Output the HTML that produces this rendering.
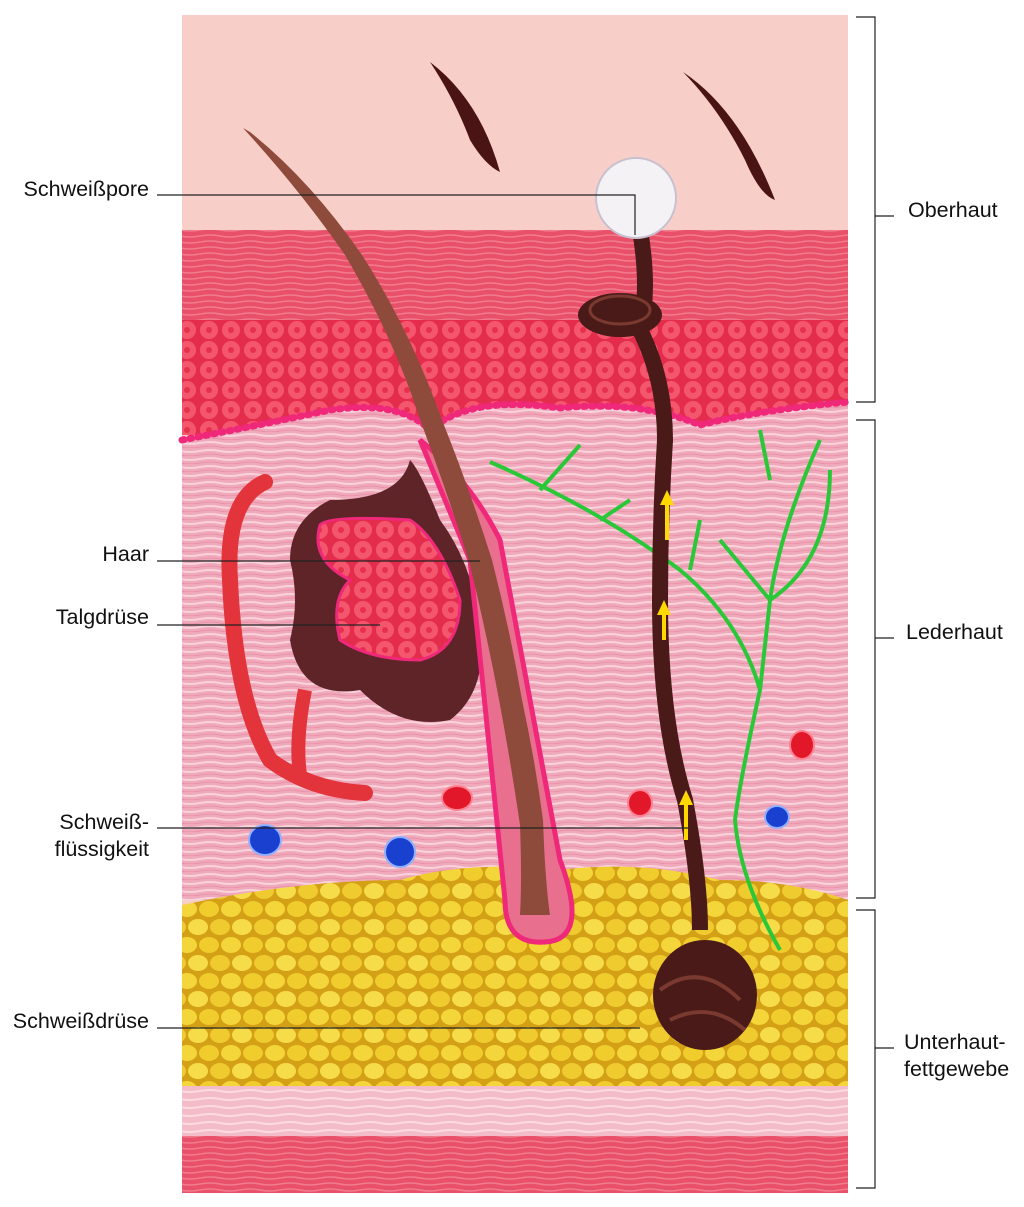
<!DOCTYPE html>
<html><head><meta charset="utf-8"><style>
html,body{margin:0;padding:0;background:#fff;}
svg{display:block;}
text{font-family:"Liberation Sans",sans-serif;font-size:21.5px;fill:#111;}
</style></head><body>
<svg width="1024" height="1207" viewBox="0 0 1024 1207" xmlns="http://www.w3.org/2000/svg">
<defs>
<pattern id="str" width="40" height="8" patternUnits="userSpaceOnUse">
<rect width="40" height="8" fill="#f0a9bb"/><path d="M0 3 Q10 1 20 3 T40 3" stroke="#f8d3dc" stroke-width="2" fill="none"/><path d="M0 7 Q10 5 20 7 T40 7" stroke="#e890a6" stroke-width="1" fill="none"/></pattern>
<pattern id="str2" width="40" height="8" patternUnits="userSpaceOnUse">
<rect width="40" height="8" fill="#f4bcc8"/><path d="M0 3 Q10 1 20 3 T40 3" stroke="#fadbe2" stroke-width="2" fill="none"/></pattern>
<pattern id="red" width="40" height="6" patternUnits="userSpaceOnUse">
<rect width="40" height="6" fill="#e9506a"/><path d="M0 2 Q10 0 20 2 T40 2" stroke="#f27c8e" stroke-width="1.5" fill="none"/></pattern>
<pattern id="cells" width="22" height="20" patternUnits="userSpaceOnUse">
<rect width="22" height="20" fill="#e42c4c"/><circle cx="11" cy="10" r="9" fill="#f4566e"/><circle cx="11" cy="10" r="3" fill="#e6304e"/></pattern>
<pattern id="fat" width="44" height="36" patternUnits="userSpaceOnUse">
<rect width="44" height="36" fill="#d4a015"/><ellipse cx="11" cy="9" rx="10" ry="8" fill="#f4d63a"/><ellipse cx="33" cy="9" rx="10" ry="8" fill="#f0cc2c"/><ellipse cx="22" cy="27" rx="10" ry="8" fill="#f6dc48"/><ellipse cx="0" cy="27" rx="10" ry="8" fill="#efcb30"/><ellipse cx="44" cy="27" rx="10" ry="8" fill="#efcb30"/></pattern>
</defs>
<rect x="182" y="15" width="666" height="1178" fill="#f8cfc8"/>
<rect x="182" y="230" width="666" height="100" fill="url(#red)"/>
<rect x="182" y="320" width="666" height="115" fill="url(#cells)"/>
<path d="M182 440 Q260 425 330 410 Q400 400 430 430 Q470 395 560 408 Q640 400 700 425 Q760 410 848 402 L848 900 L182 900Z" fill="url(#str)"/>
<path d="M182 440 Q260 425 330 410 Q400 400 430 430 Q470 395 560 408 Q640 400 700 425 Q760 410 848 402" stroke="#f0287a" stroke-width="7" fill="none" stroke-dasharray="2 6" stroke-linecap="round"/>
<path d="M182 905 Q300 880 400 880 Q470 860 560 870 Q640 860 720 880 Q790 880 848 900 L848 1090 L182 1090Z" fill="url(#fat)"/>
<rect x="182" y="1086" width="666" height="50" fill="url(#str2)"/>
<rect x="182" y="1136" width="666" height="57" fill="url(#red)"/>
<path d="M430 62 Q480 100 500 172 Q485 165 470 140 Q455 100 430 62Z" fill="#4a1414"/>
<path d="M683 72 Q740 110 775 200 Q760 195 745 160 Q720 110 683 72Z" fill="#4a1414"/>
<!-- sebaceous gland -->
<path d="M330 500 Q290 520 290 560 Q300 600 290 640 Q300 700 360 690 Q400 730 450 720 Q490 690 480 620 Q470 560 440 520 Q420 470 410 460 Q400 500 330 500Z" fill="#5e2428"/>
<path d="M320 525 Q330 515 410 520 Q440 540 460 600 Q460 650 420 660 Q370 660 340 640 Q330 600 350 580 Q310 560 320 525Z" fill="url(#cells)" stroke="#f0287a" stroke-width="3"/>
<path d="M265 482 Q225 500 230 580 Q235 700 270 760 Q310 790 365 793" stroke="#e2343a" stroke-width="16" fill="none" stroke-linecap="round"/>
<path d="M305 690 Q295 740 300 775" stroke="#e2343a" stroke-width="14" fill="none"/>
<!-- hair follicle -->
<path d="M420 440 Q470 480 500 540 Q530 700 560 860 Q590 940 545 942 Q505 945 505 900 L470 560Z" fill="#e8708e" stroke="#f0287a" stroke-width="5"/>
<path d="M243 128 Q300 190 345 255 Q395 340 422 425 Q450 500 470 565 Q488 640 500 705 Q512 770 520 825 Q522 880 520 915 L550 915 Q545 880 543 820 Q535 760 522 700 Q510 630 492 560 Q470 490 442 420 Q410 330 362 255 Q310 180 250 132Z" fill="#8e4a3a"/>
<g stroke="#2ac838" stroke-width="4" fill="none">
<path d="M490 462 Q600 510 680 570 Q740 620 760 690 Q740 780 735 820 Q740 880 780 950"/>
<path d="M540 490 L580 445 M600 520 L630 500 M700 520 L690 570 M760 690 L770 600 Q780 530 820 440 M770 600 L720 540 M770 600 Q830 560 830 470 M760 430 L770 480"/>
</g>
<path d="M640 230 Q650 290 640 330 Q665 380 665 440 Q660 520 660 600 Q660 720 685 800 Q700 880 700 930" stroke="#4a1a18" stroke-width="16" fill="none"/>
<ellipse cx="620" cy="315" rx="42" ry="22" fill="#4a1a18"/>
<ellipse cx="620" cy="310" rx="30" ry="14" fill="none" stroke="#7a3a30" stroke-width="3"/>
<circle cx="636" cy="198" r="40" fill="#f4f2f4" stroke="#c8c0d0" stroke-width="2"/>
<ellipse cx="705" cy="995" rx="52" ry="55" fill="#4a1a18"/>
<path d="M660 990 Q700 960 740 1000 M670 1020 Q710 1000 745 1030" stroke="#7a3a30" stroke-width="4" fill="none"/>
<path d="M667 540 L667 500 M664 640 L664 610 M686 840 L686 800" stroke="#ffd800" stroke-width="4"/>
<path d="M660 505 L667 490 L674 505Z M657 615 L664 600 L671 615Z M679 805 L686 790 L693 805Z" fill="#ffd800"/>
<g fill="#e2182a" stroke="#ff8090" stroke-width="2"><ellipse cx="457" cy="798" rx="15" ry="12"/><ellipse cx="640" cy="803" rx="12" ry="13"/><ellipse cx="802" cy="745" rx="12" ry="14"/></g>
<g fill="#1a40d0" stroke="#90b0ff" stroke-width="2"><ellipse cx="265" cy="840" rx="16" ry="15"/><ellipse cx="400" cy="852" rx="15" ry="15"/><ellipse cx="777" cy="817" rx="12" ry="11"/></g>
<g stroke="#222" stroke-width="1.2" fill="none">
<path d="M157 195 L635 195 L635 235"/>
<path d="M157 561 L480 561"/>
<path d="M157 625 L380 625"/>
<path d="M157 828 L688 828"/>
<path d="M157 1028 L640 1028"/>
<path d="M856 17 L875 17 L875 402 L856 402 M875 216 L894 216"/>
<path d="M856 420 L875 420 L875 898 L856 898 M875 638 L894 638"/>
<path d="M856 910 L875 910 L875 1188 L856 1188 M875 1048 L894 1048"/>
</g>
<text x="149" y="196" text-anchor="end">Schweißpore</text>
<text x="149" y="561" text-anchor="end">Haar</text>
<text x="149" y="624" text-anchor="end">Talgdrüse</text>
<text x="149" y="829" text-anchor="end">Schweiß-</text>
<text x="149" y="856" text-anchor="end">flüssigkeit</text>
<text x="149" y="1028" text-anchor="end">Schweißdrüse</text>
<text x="908" y="217">Oberhaut</text>
<text x="906" y="639">Lederhaut</text>
<text x="904" y="1049">Unterhaut-</text>
<text x="904" y="1076">fettgewebe</text>
</svg>
</body></html>
